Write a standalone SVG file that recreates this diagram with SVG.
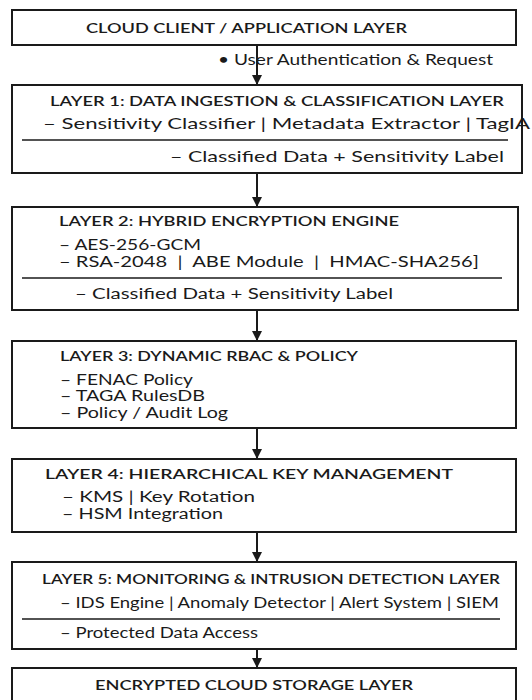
<svg xmlns="http://www.w3.org/2000/svg" width="532" height="700" viewBox="0 0 532 700">
<defs>
<marker id="ah" viewBox="0 0 10 10" refX="9" refY="5" markerWidth="10" markerHeight="10" markerUnits="userSpaceOnUse" orient="auto">
<path d="M0,0 L10,5 L0,10 Z" fill="#1a1a1a"/>
</marker>
<style>
.box{fill:#fff;stroke:#1a1a1a;stroke-width:2}
.sep{stroke:#1a1a1a;stroke-width:1.6}
.conn{stroke:#1a1a1a;stroke-width:2;fill:none}
text{font-family:Lato,"Open Sans","Liberation Sans",sans-serif;fill:#1a1a1a}
.t{font-size:13.5px;font-weight:600}
.i{font-size:14.5px}
.b{font-size:16px}
</style>
</defs>
<rect width="532" height="700" fill="#fff"/>
<g id="connectors">
<line class="conn" x1="257" y1="45" x2="257" y2="84" marker-end="url(#ah)"/>
<line class="conn" x1="257" y1="173" x2="257" y2="206" marker-end="url(#ah)"/>
<line class="conn" x1="257" y1="310" x2="257" y2="340" marker-end="url(#ah)"/>
<line class="conn" x1="257" y1="428" x2="257" y2="458" marker-end="url(#ah)"/>
<line class="conn" x1="257" y1="532" x2="257" y2="561" marker-end="url(#ah)"/>
<line class="conn" x1="257" y1="649" x2="257" y2="667" marker-end="url(#ah)"/>
<text class="i" x="218" y="65" textLength="275" lengthAdjust="spacingAndGlyphs">• User Authentication &amp; Request</text>
</g>
<g id="client">
<rect class="box" x="12" y="10" width="504" height="35"/>
<text class="t" x="86" y="33" textLength="321" lengthAdjust="spacingAndGlyphs">CLOUD CLIENT / APPLICATION LAYER</text>
</g>
<g id="layer1">
<rect class="box" x="12" y="85" width="510" height="88"/>
<text class="t" x="50" y="106" textLength="454" lengthAdjust="spacingAndGlyphs">LAYER 1: DATA INGESTION &amp; CLASSIFICATION LAYER</text>
<text class="b" x="43" y="129" textLength="487" lengthAdjust="spacingAndGlyphs">– Sensitivity Classifier | Metadata Extractor | TagIA</text>
<line class="sep" x1="22" y1="140" x2="508" y2="140"/>
<text class="b" x="170" y="162" textLength="334" lengthAdjust="spacingAndGlyphs">– Classified Data + Sensitivity Label</text>
</g>
<g id="layer2">
<rect class="box" x="12" y="207" width="506" height="103"/>
<text class="t" x="59" y="226" textLength="340" lengthAdjust="spacingAndGlyphs">LAYER 2: HYBRID ENCRYPTION ENGINE</text>
<text class="i" x="59" y="250" textLength="142" lengthAdjust="spacingAndGlyphs">– AES-256-GCM</text>
<text class="i" x="59" y="267" textLength="420" lengthAdjust="spacingAndGlyphs">– RSA-2048 &#160;| &#160;ABE Module &#160;| &#160;HMAC-SHA256]</text>
<line class="sep" x1="22" y1="278" x2="502" y2="278"/>
<text class="i" x="75" y="299" textLength="318" lengthAdjust="spacingAndGlyphs">– Classified Data + Sensitivity Label</text>
</g>
<g id="layer3">
<rect class="box" x="12" y="341" width="504" height="87"/>
<text class="t" x="60" y="361" textLength="298" lengthAdjust="spacingAndGlyphs">LAYER 3: DYNAMIC RBAC &amp; POLICY</text>
<text class="i" x="60" y="385" textLength="133" lengthAdjust="spacingAndGlyphs">– FENAC Policy</text>
<text class="i" x="60" y="401" textLength="145" lengthAdjust="spacingAndGlyphs">– TAGA RulesDB</text>
<text class="i" x="60" y="418" textLength="168" lengthAdjust="spacingAndGlyphs">– Policy / Audit Log</text>
</g>
<g id="layer4">
<rect class="box" x="12" y="459" width="504" height="73"/>
<text class="t" x="45" y="479" textLength="408" lengthAdjust="spacingAndGlyphs">LAYER 4: HIERARCHICAL KEY MANAGEMENT</text>
<text class="i" x="62" y="502" textLength="193" lengthAdjust="spacingAndGlyphs">– KMS | Key Rotation</text>
<text class="i" x="62" y="519" textLength="161" lengthAdjust="spacingAndGlyphs">– HSM Integration</text>
</g>
<g id="layer5">
<rect class="box" x="12" y="562" width="504" height="87"/>
<text class="t" x="42" y="584" textLength="458" lengthAdjust="spacingAndGlyphs">LAYER 5: MONITORING &amp; INTRUSION DETECTION LAYER</text>
<text class="i" x="60" y="608" textLength="439" lengthAdjust="spacingAndGlyphs">– IDS Engine | Anomaly Detector | Alert System | SIEM</text>
<line class="sep" x1="22" y1="619" x2="500" y2="619"/>
<text class="i" x="60" y="638" textLength="198" lengthAdjust="spacingAndGlyphs">– Protected Data Access</text>
</g>
<g id="storage">
<rect class="box" x="12" y="668" width="504" height="40"/>
<text class="t" x="95" y="690" textLength="318" lengthAdjust="spacingAndGlyphs">ENCRYPTED CLOUD STORAGE LAYER</text>
</g>
</svg>
